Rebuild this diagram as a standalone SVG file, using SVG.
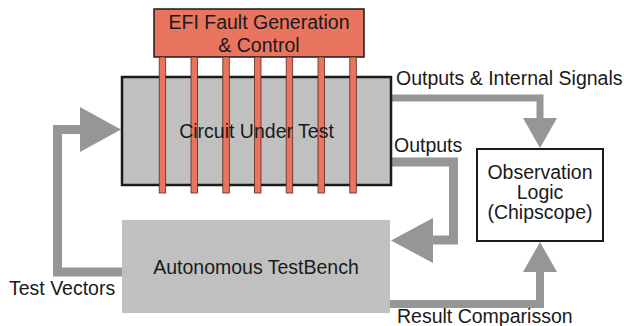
<svg xmlns="http://www.w3.org/2000/svg" width="624" height="326" viewBox="0 0 624 326">
<style>
text{font-family:"Liberation Sans",Arial,sans-serif;font-size:19.5px;fill:#1a1a1a}
.m{text-anchor:middle}
.c{fill:none;stroke:#969696;stroke-linejoin:miter}
.h{fill:#969696}
.bar{fill:#E9745F;stroke:#5a2a20;stroke-width:0.8}
</style>
<rect width="624" height="326" fill="#fff"/>
<g id="connectors">
<polyline class="c" stroke-width="9" points="122,272 57.5,272 57.5,129.5 82,129.5"/>
<polygon class="h" points="80,107 121,129.5 80,152"/>
<polyline class="c" stroke-width="9" points="392,162 453.5,162 453.5,240 431,240"/>
<polygon class="h" points="433,218 391,240.5 433,263"/>
<polyline class="c" stroke-width="7" points="392,98 540,98 540,120"/>
<polygon class="h" points="523,118 540,148 557,118"/>
<polyline class="c" stroke-width="8" points="390,304 540,304 540,270"/>
<polygon class="h" points="523,272 540,242 557,272"/>
</g>
<g id="cut">
<rect x="122" y="77" width="269" height="108" fill="#C0C0C0" stroke="#1a1a1a" stroke-width="2.5"/>
</g>
<g id="efi">
<rect x="154" y="9" width="210" height="48" fill="#E9745F" stroke="#1a1a1a" stroke-width="1.5"/>
<rect class="bar" x="159.2" y="57" width="6.5" height="136"/>
<rect class="bar" x="191" y="57" width="6.5" height="136"/>
<rect class="bar" x="222.8" y="57" width="6.5" height="136"/>
<rect class="bar" x="254.5" y="57" width="6.5" height="136"/>
<rect class="bar" x="286.2" y="57" width="6.5" height="136"/>
<rect class="bar" x="318" y="57" width="6.5" height="136"/>
<rect class="bar" x="349.8" y="57" width="6.5" height="136"/>
<text class="m" x="259" y="29">EFI Fault Generation</text>
<text class="m" x="259" y="52">&amp; Control</text>
</g>
<g id="cut-label">
<text class="m" x="256.5" y="138">Circuit Under Test</text>
</g>
<g id="atb">
<rect x="122" y="220" width="268" height="93" fill="#C0C0C0"/>
<text class="m" x="256" y="274">Autonomous TestBench</text>
</g>
<g id="obs">
<rect x="477" y="149" width="126" height="92" fill="#fff" stroke="#1a1a1a" stroke-width="2"/>
<text class="m" x="540" y="179">Observation</text>
<text class="m" x="540" y="199">Logic</text>
<text class="m" x="540" y="219">(Chipscope)</text>
</g>
<g id="labels">
<text x="396" y="85">Outputs &amp; Internal Signals</text>
<text x="394" y="152">Outputs</text>
<text x="9" y="295">Test Vectors</text>
<text x="397" y="323">Result Comparisson</text>
</g>
</svg>
